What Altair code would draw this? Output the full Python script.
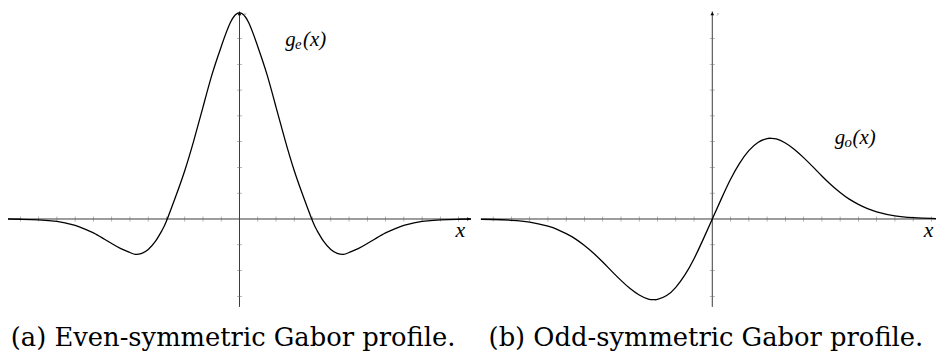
import altair as alt
import pandas as pd

# ---- data (x in tick units, y in tick units) ----
ge_x = [-12.68, -12, -11, -10, -9.5, -9, -8.5, -8, -7.5, -7, -6.5, -6, -5.7, -5.35, -5,
        -4.6, -4.25, -4, -3.5, -3, -2.5, -2, -1.5, -1, -0.5, 0,
        0.5, 1, 1.5, 2, 2.5, 3, 3.5, 4, 4.25, 4.6, 5, 5.35, 5.7, 6, 6.5, 7, 7.5, 8, 8.5, 9,
        9.5, 10, 11, 12, 12.68]
ge_y = [0, -0.01, -0.03, -0.09, -0.16, -0.25, -0.38, -0.54, -0.74, -0.95, -1.15, -1.3, -1.37, -1.33, -1.18,
        -0.86, -0.45, -0.08, 0.86, 1.87, 3.05, 4.34, 5.62, 6.69, 7.62, 8.0,
        7.62, 6.69, 5.62, 4.34, 3.05, 1.87, 0.86, -0.08, -0.45, -0.86, -1.18, -1.33, -1.37, -1.3, -1.15, -0.95, -0.74, -0.54, -0.38, -0.25,
        -0.16, -0.09, -0.03, -0.01, 0]

go_x = [-12.67, -12, -11, -10, -9, -8.5, -8, -7.5, -7, -6.5, -6, -5.5, -5, -4.5, -4, -3.5, -3.2,
        -3, -2.5, -2, -1.5, -1, -0.5, 0,
        0.5, 1, 1.5, 2, 2.5, 3, 3.2, 3.5, 4, 4.5, 5, 5.5, 6, 6.5, 7, 7.5, 8, 8.5, 9, 10, 11, 12, 12.7]
go_y = [-0.01, -0.02, -0.05, -0.12, -0.28, -0.40, -0.57, -0.77, -1.03, -1.33, -1.67, -2.03, -2.38, -2.70, -2.95, -3.11, -3.13,
        -3.12, -2.97, -2.65, -2.17, -1.54, -0.79, 0,
        0.79, 1.54, 2.17, 2.65, 2.97, 3.12, 3.13, 3.11, 2.95, 2.70, 2.38, 2.03, 1.67, 1.33, 1.03, 0.77, 0.57, 0.40, 0.28, 0.12, 0.05, 0.02, 0.01]

x_ticks = [-12, -11, -10, -9, -8, -7, -6, -5, -4, -3, -2, -1, 1, 2, 3, 4, 5, 6, 7, 8, 9, 10, 11, 12]
y_ticks = [-3, -2, -1, 1, 2, 3, 4, 5, 6, 7]

captions = ["(a) Even-symmetric Gabor profile.", "(b) Odd-symmetric Gabor profile."]
label_subscripts = ["e", "o"]

# ---- scale layout ----
Y_DOM = [-3.41, 8.05]
Y_RANGE = [300, 2]
panels = [
    dict(cx=ge_x, cy=ge_y, dom=[-12.68, 12.68], rng=[0, 467], axis_end=12.68,
         sub=label_subscripts[0], lx=2.5, ly=6.9, caption=captions[0], xl=12.1),
    dict(cx=go_x, cy=go_y, dom=[-12.67, 12.25], rng=[477, 936], axis_end=12.68,
         sub=label_subscripts[1], lx=6.7, ly=3.09, caption=captions[1], xl=11.85),
]

MATH_FONT = "Liberation Serif"
AXIS_COLOR = "#3a3a3a"


def build_panel(p):
    xs = alt.Scale(domain=p["dom"], range=p["rng"], nice=False, zero=False)
    ys = alt.Scale(domain=Y_DOM, range=Y_RANGE, nice=False, zero=False)

    def X(f):
        return alt.X(f, type="quantitative", scale=xs, axis=None)

    def Y(f):
        return alt.Y(f, type="quantitative", scale=ys, axis=None)

    curve_df = pd.DataFrame({"x": p["cx"], "y": p["cy"]})
    xaxis_df = pd.DataFrame({"x": [p["dom"][0]], "x2": [p["axis_end"]], "y": [0]})
    yaxis_df = pd.DataFrame({"x": [0], "y": [Y_DOM[0]], "y2": [Y_DOM[1]]})
    xt_df = pd.DataFrame({"x": x_ticks, "y": [0] * len(x_ticks)})
    yt_df = pd.DataFrame({"x": [0] * len(y_ticks), "y": y_ticks})
    xarrow_df = pd.DataFrame({"x": [p["axis_end"] - 0.12], "y": [0]})
    yarrow_df = pd.DataFrame({"x": [0], "y": [Y_DOM[1] - 0.08]})
    g_df = pd.DataFrame({"x": [p["lx"]], "y": [p["ly"]], "t": ["g"]})
    s_df = pd.DataFrame({"x": [p["lx"]], "y": [p["ly"]], "t": [p["sub"]]})
    a_df = pd.DataFrame({"x": [p["lx"]], "y": [p["ly"]], "t": ["(x)"]})
    xlab_df = pd.DataFrame({"x": [p["xl"]], "y": [-0.43], "t": ["x"]})
    ylab_df = pd.DataFrame({"x": [0.3], "y": [8.0], "t": ["y"]})
    cap_df = pd.DataFrame({"x": [-0.35], "y": [-4.62], "t": [p["caption"]]})

    xaxis = alt.Chart(xaxis_df).mark_rule(color=AXIS_COLOR, strokeWidth=1).encode(
        x=X("x"), x2="x2", y=Y("y"))
    yaxis = alt.Chart(yaxis_df).mark_rule(color=AXIS_COLOR, strokeWidth=1).encode(
        x=X("x"), y=Y("y"), y2="y2")
    xt = alt.Chart(xt_df).mark_tick(orient="vertical", size=5, thickness=0.7,
                                    color="#666666").encode(x=X("x"), y=Y("y"))
    yt = alt.Chart(yt_df).mark_tick(orient="horizontal", size=5, thickness=0.7,
                                    color="#666666").encode(x=X("x"), y=Y("y"))
    xarrow = alt.Chart(xarrow_df).mark_point(shape="triangle-right", size=14, filled=True,
                                             color="black", opacity=1).encode(x=X("x"), y=Y("y"))
    yarrow = alt.Chart(yarrow_df).mark_point(shape="triangle-up", size=14, filled=True,
                                             color="black", opacity=1).encode(x=X("x"), y=Y("y"))
    curve = alt.Chart(curve_df).mark_line(color="black", strokeWidth=1.3,
                                          interpolate="natural").encode(x=X("x"), y=Y("y"))
    g_t = alt.Chart(g_df).mark_text(font=MATH_FONT, fontStyle="italic", fontSize=21,
                                    align="left", baseline="alphabetic", dy=5,
                                    color="black").encode(x=X("x"), y=Y("y"), text="t")
    s_t = alt.Chart(s_df).mark_text(font=MATH_FONT, fontStyle="italic", fontSize=15,
                                    align="left", baseline="alphabetic", dx=10, dy=8,
                                    color="black").encode(x=X("x"), y=Y("y"), text="t")
    a_t = alt.Chart(a_df).mark_text(font=MATH_FONT, fontStyle="italic", fontSize=21,
                                    align="left", baseline="alphabetic", dx=18, dy=5,
                                    color="black").encode(x=X("x"), y=Y("y"), text="t")
    xlab = alt.Chart(xlab_df).mark_text(font=MATH_FONT, fontStyle="italic", fontSize=22,
                                        align="center", baseline="middle", color="black").encode(
        x=X("x"), y=Y("y"), text="t")
    ylab = alt.Chart(ylab_df).mark_text(font=MATH_FONT, fontStyle="italic", fontSize=5,
                                        align="center", baseline="middle", color="#6f7f99").encode(
        x=X("x"), y=Y("y"), text="t")
    cap = alt.Chart(cap_df).mark_text(font="DejaVu Serif", fontSize=26, align="center",
                                      baseline="middle", color="black").encode(
        x=X("x"), y=Y("y"), text="t")
    return alt.layer(xaxis, yaxis, xt, yt, xarrow, yarrow, curve, g_t, s_t, a_t, xlab, ylab, cap)


left = build_panel(panels[0])
right = build_panel(panels[1])

chart = alt.layer(left, right).resolve_scale(x="independent").properties(
    width=936, height=345, padding=0,
    autosize=alt.AutoSizeParams(type="none"),
    background="white",
).configure_view(stroke=None)

chart.save("out.html", embed_options={"renderer": "svg", "actions": False})
